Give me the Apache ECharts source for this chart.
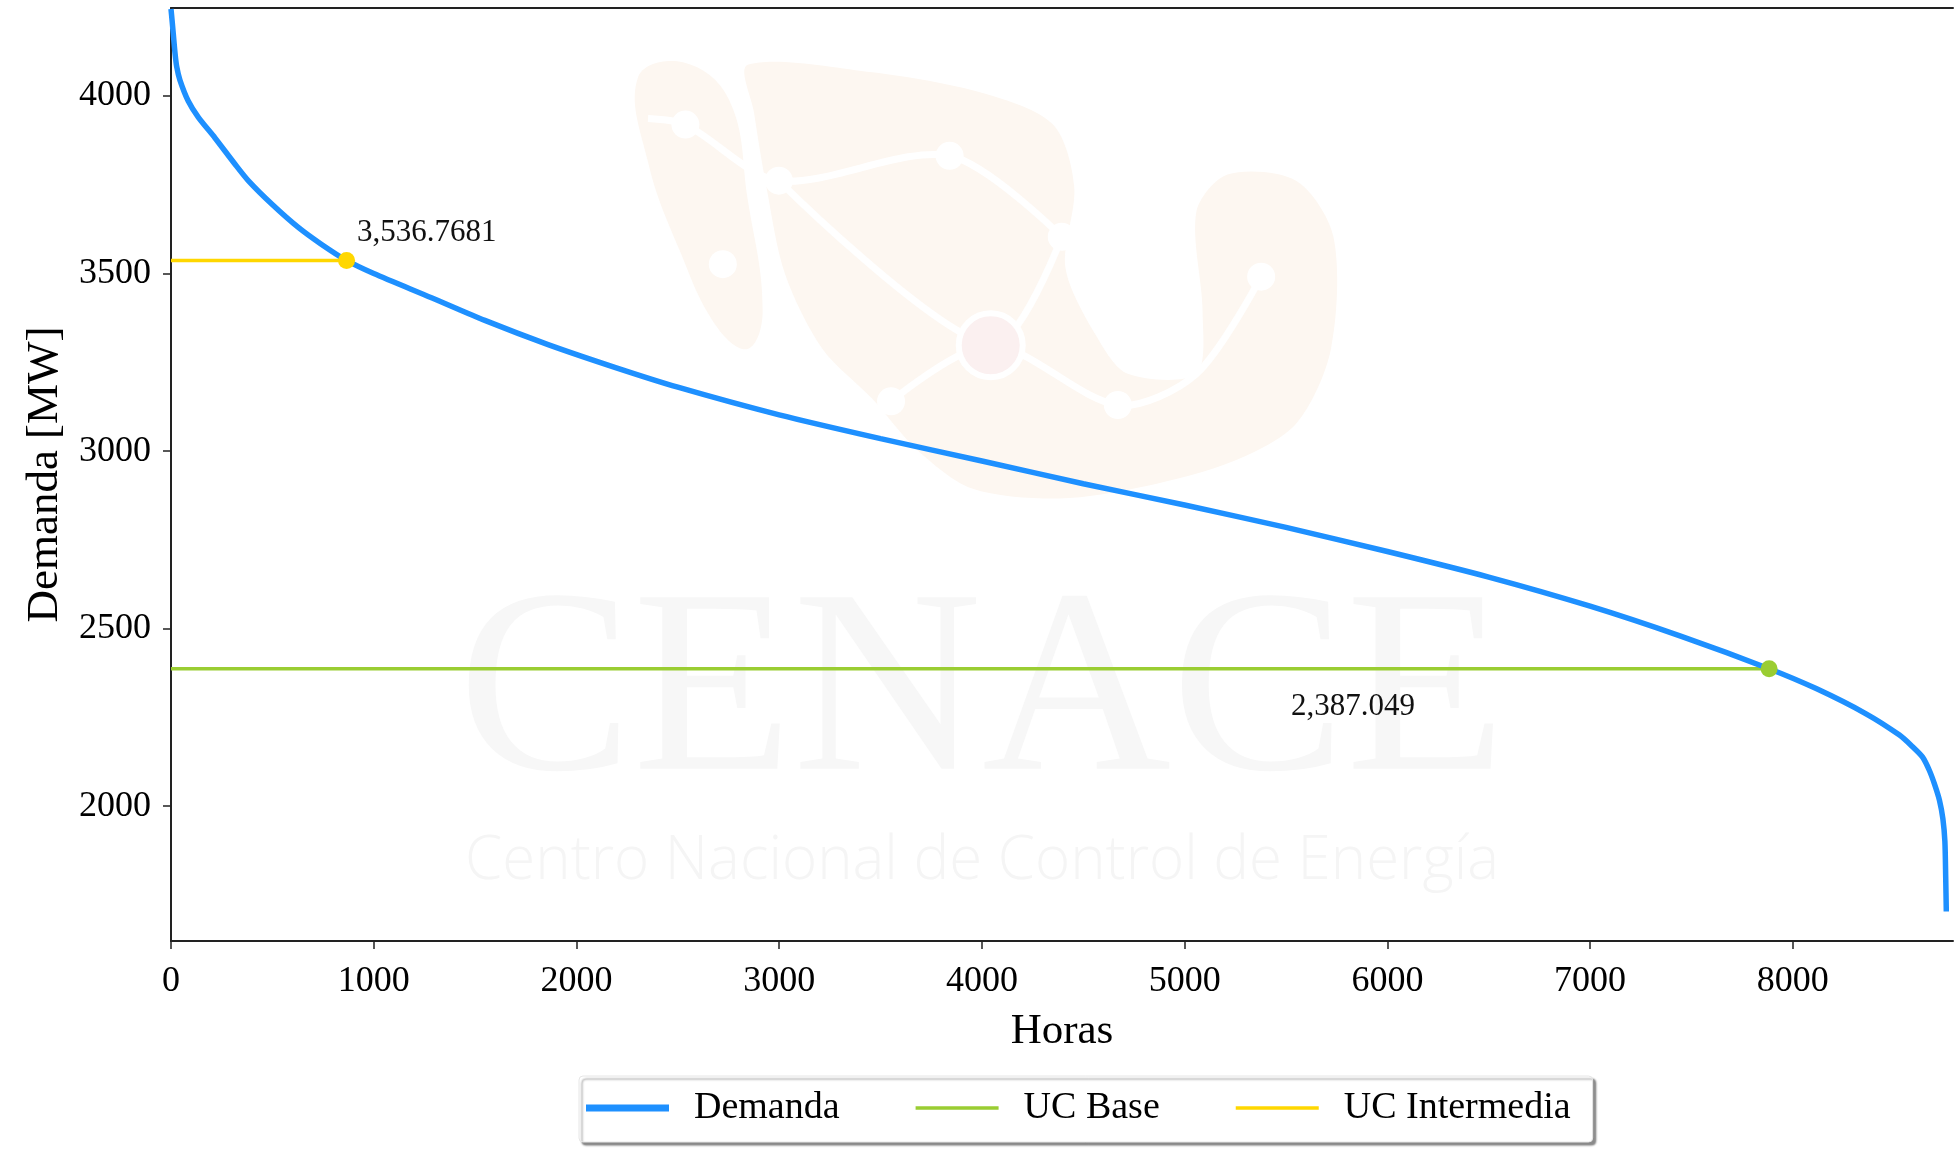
<!DOCTYPE html>
<html>
<head>
<meta charset="utf-8">
<script src="https://cdn.jsdelivr.net/npm/echarts@6/dist/echarts.min.js"></script>
<style>
  html, body { margin: 0; padding: 0; background: #fff; }
  #chart { width: 1954px; height: 1159px; }
</style>
</head>
<body>
<div id="chart"></div>
<script>
// curva de duración de carga (horas ordenadas vs demanda)
const horas = [0, 5, 11, 20, 28, 44, 85, 135, 217, 316, 381, 497, 628, 743, 866, 1000, 1285, 1548, 1860, 2189, 2500, 3000, 3500, 4000, 4500, 5000, 5500, 6000, 6500, 7000, 7450, 7883, 8115, 8361, 8526, 8591, 8640, 8673, 8700, 8723, 8740, 8750, 8754, 8757];
const demanda = [4245, 4215, 4177, 4120, 4083, 4045, 3986, 3940, 3882, 3808, 3762, 3696, 3630, 3582, 3537, 3500, 3432, 3368, 3300, 3236, 3180, 3102, 3035, 2972, 2908, 2848, 2785, 2717, 2645, 2563, 2478, 2387, 2331, 2260, 2200, 2167, 2138, 2101, 2060, 2017, 1965, 1900, 1800, 1703];

const ucBase = [7883, 2387.049];
const ucIntermedia = [866, 3536.7681];

const xTicks = [0, 1000, 2000, 3000, 4000, 5000, 6000, 7000, 8000];
const yTicks = [2000, 2500, 3000, 3500, 4000];

const FONT = '"Liberation Serif", "DejaVu Serif", serif';

const fmt = v => v.toLocaleString('en-US', { maximumFractionDigits: 4 });

// marca de agua (logo aproximado), coordenadas en la imagen reducida
const S = 1.2462;
const pt = p => [p[0] * S, p[1] * S];
const logoBody = [[600,52],[700,58],[790,75],[845,100],[862,150],[855,215],[880,270],[905,300],[960,300],[965,250],[960,170],[985,140],[1040,145],[1070,190],[1068,280],[1040,340],[990,370],[920,390],[850,400],[780,392],[735,360],[700,320],[660,280],[630,220],[615,150],[605,90]].map(pt);
const logoBaja = [[512,62],[548,50],[585,80],[600,160],[612,250],[600,280],[575,262],[545,200],[520,130]].map(pt);
const logoNodes = [[550,100],[625,145],[762,125],[852,190],[1012,222],[580,212],[897,325],[715,322]].map(pt);
const logoLinks = [
  [[520,95],[550,100],[625,145],[762,125],[852,190]],
  [[625,145],[795,277],[852,190]],
  [[715,322],[795,277],[897,325],[960,300],[1012,222]]
].map(l => l.map(pt));

const watermark = [
  { type: 'polygon', silent: true, z: -5, shape: { points: logoBaja, smooth: 0.4 }, style: { fill: '#fdf7f1' } },
  { type: 'polygon', silent: true, z: -5, shape: { points: logoBody, smooth: 0.3 }, style: { fill: '#fdf7f1' } }
];
logoLinks.forEach(l => watermark.push({ type: 'polyline', silent: true, z: -4, shape: { points: l, smooth: 0.3 }, style: { stroke: '#ffffff', lineWidth: 7, fill: null } }));
logoNodes.forEach(c => watermark.push({ type: 'circle', silent: true, z: -3, shape: { cx: c[0], cy: c[1], r: 14 }, style: { fill: '#ffffff' } }));
watermark.push({ type: 'circle', silent: true, z: -3, shape: { cx: 795 * S, cy: 277 * S, r: 32 }, style: { fill: '#fbf0f0', stroke: '#ffffff', lineWidth: 6 } });
watermark.push({ type: 'text', silent: true, z: -5, style: { text: 'CENACE', x: 982, y: 700, align: 'center', verticalAlign: 'middle', font: '262px ' + FONT, fill: '#f7f7f7' } });
watermark.push({ type: 'text', silent: true, z: -5, style: { text: 'Centro Nacional de Control de Energía', x: 982, y: 862, align: 'center', verticalAlign: 'middle', font: '300 60px "Open Sans", sans-serif', fill: '#f5f5f5' } });

const chart = echarts.init(document.getElementById('chart'));

const option = {
  backgroundColor: '#fff',
  animation: false,
  textStyle: { fontFamily: FONT, color: '#000' },
  graphic: watermark,
  grid: { left: 171, right: 1, top: 8, bottom: 218, show: false },
  legend: {
    data: [
      { name: 'Demanda', icon: 'path://M0,0H166V14H0Z' },
      { name: 'UC Base', icon: 'path://M0,0H166V7H0Z' },
      { name: 'UC Intermedia', icon: 'path://M0,0H166V7H0Z' }
    ],
    left: 579,
    top: 1076,
    padding: [13, 22, 15, 7],
    itemWidth: 83,
    itemHeight: 14,
    itemGap: 76,
    backgroundColor: '#fff',
    borderColor: '#e6e6e6',
    borderWidth: 1,
    borderRadius: 4,
    shadowColor: 'rgba(0,0,0,0.45)',
    shadowBlur: 2,
    shadowOffsetX: 3,
    shadowOffsetY: 3,
    textStyle: { fontFamily: FONT, fontSize: 38, color: '#000', padding: [0, 0, 0, 20] }
  },
  xAxis: [{
    type: 'value',
    min: 0,
    max: 8790,
    name: 'Horas',
    nameLocation: 'middle',
    nameGap: 69,
    nameTextStyle: { fontFamily: FONT, fontSize: 43, color: '#000' },
    axisLine: { lineStyle: { color: '#222', width: 2 } },
    axisTick: { show: true, length: 8, lineStyle: { color: '#222', width: 1.5 }, customValues: xTicks },
    axisLabel: { fontFamily: FONT, fontSize: 36, color: '#000', margin: 23, customValues: xTicks, formatter: v => String(v) },
    splitLine: { show: false }
  }, {
    type: 'value',
    position: 'top',
    min: 0,
    max: 8790,
    axisLine: { show: true, lineStyle: { color: '#222', width: 2 } },
    axisTick: { show: false },
    axisLabel: { show: false },
    splitLine: { show: false }
  }],
  yAxis: {
    type: 'value',
    min: 1620,
    max: 4248,
    name: 'Demanda [MW]',
    nameLocation: 'middle',
    nameGap: 100,
    nameTextStyle: { fontFamily: FONT, fontSize: 45, color: '#000' },
    axisLine: { show: true, lineStyle: { color: '#222', width: 2 } },
    axisTick: { show: true, length: 8, lineStyle: { color: '#222', width: 1.5 }, customValues: yTicks },
    axisLabel: { fontFamily: FONT, fontSize: 36, color: '#000', margin: 20, customValues: yTicks, formatter: v => String(v) },
    splitLine: { show: false }
  },
  series: [
    {
      name: 'UC Base',
      type: 'line',
      symbol: 'none',
      z: 2,
      data: [[0, ucBase[1]], ucBase],
      lineStyle: { color: '#9ACD32', width: 3.5 },
      itemStyle: { color: '#9ACD32' }
    },
    {
      name: 'UC Intermedia',
      type: 'line',
      symbol: 'none',
      z: 2,
      data: [[0, ucIntermedia[1]], ucIntermedia],
      lineStyle: { color: '#FFD700', width: 3.5 },
      itemStyle: { color: '#FFD700' }
    },
    {
      name: 'Demanda',
      type: 'line',
      symbol: 'none',
      smooth: 0.25,
      z: 3,
      data: horas.map((h, i) => [h, demanda[i]]),
      lineStyle: { color: '#1E90FF', width: 5.5 },
      itemStyle: { color: '#1E90FF' }
    },
    {
      name: 'punto base',
      type: 'scatter',
      z: 4,
      symbolSize: 17,
      data: [ucBase],
      itemStyle: { color: '#9ACD32', opacity: 1 },
      label: {
        show: true,
        position: 'inside',
        offset: [-416, 38],
        formatter: p => fmt(p.value[1]),
        fontFamily: FONT, fontSize: 31, color: '#111'
      }
    },
    {
      name: 'punto intermedia',
      type: 'scatter',
      z: 4,
      symbolSize: 17,
      data: [ucIntermedia],
      itemStyle: { color: '#FFD700', opacity: 1 },
      label: {
        show: true,
        position: 'right',
        offset: [-3, -28],
        formatter: p => fmt(p.value[1]),
        fontFamily: FONT, fontSize: 31, color: '#111'
      }
    }
  ]
};

chart.setOption(option);
</script>
</body>
</html>
